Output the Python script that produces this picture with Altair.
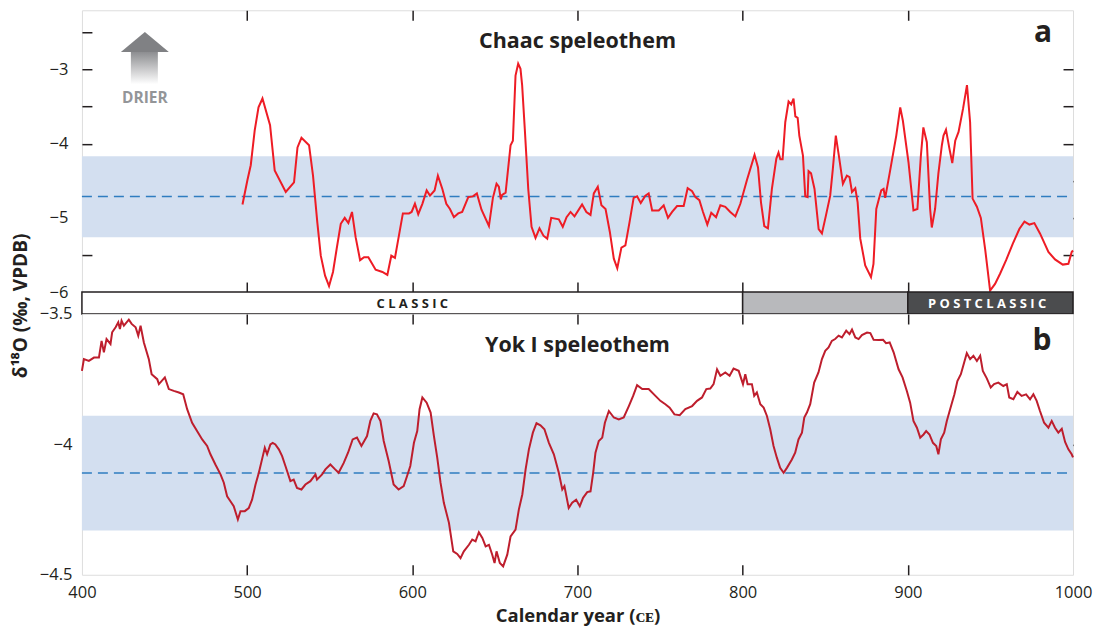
import altair as alt
import pandas as pd

# ---------------- data ----------------
chaac_year = [497.2, 500.2, 502.2, 504.6, 506.9, 509.3, 513.9, 516.7, 523.4, 528.4, 530.5, 532.9, 537.5, 539.9,
              542.5, 544.6, 547.2, 549.6, 552.0, 554.2, 556.7, 559.1, 561.3, 563.5, 565.7, 568.4, 570.8, 573.4,
              577.8, 581.9, 584.9, 587.3, 589.5, 591.9, 594.3, 598.0, 599.6, 601.6, 603.6, 606.1, 608.7, 610.7,
              613.5, 615.5, 618.2, 620.6, 622.8, 625.2, 627.8, 630.2, 633.9, 636.7, 639.1, 641.9, 646.4, 648.8,
              651.0, 652.4, 653.6, 654.4, 656.5, 659.5, 660.9, 662.5, 664.1, 665.5, 666.5, 668.1, 670.2, 672.2,
              674.6, 677.0, 679.4, 681.7, 684.1, 688.7, 691.1, 693.4, 695.8, 698.2, 702.8, 705.4, 707.9, 709.9,
              712.3, 714.5, 717.0, 719.6, 722.0, 724.1, 726.6, 729.0, 731.5, 734.0, 736.1, 738.3, 741.1, 743.1,
              745.2, 749.2, 752.2, 754.8, 757.3, 760.3, 764.3, 766.7, 769.4, 771.4, 773.8, 776.0, 778.6, 781.0,
              783.9, 786.5, 789.5, 792.5, 795.6, 798.6, 802.6, 807.2, 809.3, 811.1, 813.1, 815.3, 817.7, 820.4,
              821.7, 822.8, 824.2, 825.8, 827.8, 829.4, 830.8, 831.9, 833.3, 834.3, 836.5, 837.9, 839.3, 839.9,
              841.4, 843.5, 846.0, 848.0, 850.4, 853.0, 854.6, 856.4, 858.5, 860.7, 863.1, 864.7, 866.2, 868.2,
              869.6, 871.2, 874.2, 877.7, 879.2, 880.9, 882.2, 883.9, 885.3, 886.3, 889.3, 893.0, 895.4, 897.0,
              900.4, 903.4, 905.8, 907.9, 909.4, 911.5, 913.5, 914.5, 916.5, 918.5, 920.6, 921.6, 923.1, 925.2,
              926.9, 928.7, 930.7, 933.4, 935.8, 937.7, 939.2, 941.8, 944.2, 946.8, 949.8, 952.8, 955.9, 959.5,
              963.5, 967.5, 970.6, 973.6, 976.6, 980.0, 985.1, 989.1, 993.8, 997.2, 999.2, 1000.0]
chaac_d18o = [-4.82, -4.49, -4.29, -3.82, -3.51, -3.39, -3.75, -4.36, -4.65, -4.52, -4.05, -3.92, -4.02, -4.43,
              -5.06, -5.51, -5.78, -5.92, -5.73, -5.42, -5.08, -5.00, -5.07, -4.92, -5.26, -5.57, -5.53, -5.53,
              -5.70, -5.73, -5.77, -5.51, -5.54, -5.24, -4.94, -4.94, -4.92, -4.81, -4.95, -4.81, -4.63, -4.70,
              -4.63, -4.43, -4.61, -4.81, -4.88, -4.99, -4.94, -4.92, -4.72, -4.71, -4.67, -4.89, -5.11, -4.73,
              -4.54, -4.58, -4.75, -4.69, -4.66, -4.02, -3.96, -3.08, -2.92, -2.99, -3.21, -3.80, -4.61, -5.12,
              -5.27, -5.14, -5.24, -5.28, -5.00, -5.02, -5.12, -4.99, -4.92, -4.98, -4.82, -4.92, -4.96, -4.67,
              -4.58, -4.83, -4.88, -5.19, -5.55, -5.68, -5.40, -5.37, -5.06, -4.73, -4.71, -4.80, -4.70, -4.67,
              -4.90, -4.90, -4.83, -5.00, -4.92, -4.84, -4.84, -4.60, -4.64, -4.72, -4.76, -4.92, -5.09, -4.93,
              -4.99, -4.83, -4.85, -4.92, -4.98, -4.81, -4.49, -4.15, -4.32, -4.79, -5.11, -5.14, -4.61, -4.20,
              -4.12, -4.21, -4.21, -3.71, -3.43, -3.47, -3.39, -3.63, -3.65, -3.89, -4.16, -4.71, -4.72, -4.37,
              -4.40, -4.61, -5.15, -5.21, -4.97, -4.70, -4.34, -3.89, -4.20, -4.54, -4.43, -4.45, -4.65, -4.60,
              -4.79, -5.28, -5.64, -5.80, -5.62, -4.88, -4.77, -4.63, -4.61, -4.73, -4.36, -3.89, -3.51, -3.69,
              -4.25, -4.90, -4.88, -4.16, -3.78, -3.98, -4.88, -5.13, -4.88, -4.40, -4.02, -3.89, -3.81, -4.07,
              -4.26, -3.96, -3.84, -3.53, -3.21, -3.71, -4.74, -4.85, -5.00, -5.42, -5.98, -5.89, -5.75, -5.57,
              -5.35, -5.15, -5.05, -5.09, -5.07, -5.21, -5.46, -5.56, -5.63, -5.62, -5.46, -5.44]

yok_year = [400.0, 401.2, 404.2, 407.3, 410.3, 411.9, 413.3, 414.9, 417.3, 418.3, 420.4, 422.0, 423.0, 424.0,
            425.4, 428.4, 430.1, 432.5, 434.1, 435.5, 437.5, 440.5, 442.2, 445.6, 446.6, 450.2, 452.6, 455.6,
            458.7, 461.3, 463.7, 466.7, 469.7, 472.8, 475.8, 477.8, 480.8, 483.9, 485.9, 487.9, 489.9, 491.9,
            494.4, 496.0, 498.6, 501.0, 503.0, 505.1, 507.1, 509.5, 510.7, 512.1, 514.1, 515.5, 517.1, 519.2,
            521.2, 523.2, 526.2, 528.2, 530.2, 532.9, 535.3, 538.3, 541.4, 542.3, 545.4, 547.4, 550.4, 553.0,
            555.4, 558.5, 561.1, 563.9, 566.5, 569.2, 572.6, 574.6, 576.6, 578.6, 580.7, 582.7, 585.7, 588.7,
            591.7, 594.8, 596.8, 598.8, 601.0, 603.0, 604.4, 606.1, 608.7, 611.1, 613.1, 615.1, 617.1, 619.1,
            622.2, 624.8, 627.2, 629.2, 631.2, 634.3, 636.3, 638.3, 640.3, 642.4, 644.4, 646.4, 648.4, 649.8,
            651.0, 653.0, 655.0, 657.5, 659.5, 662.5, 664.5, 666.6, 668.6, 670.6, 673.0, 675.2, 677.6, 680.0,
            682.7, 685.7, 688.7, 690.8, 692.1, 694.7, 696.8, 699.2, 701.4, 703.4, 705.9, 707.9, 709.5, 710.9,
            712.9, 715.0, 716.6, 719.0, 722.0, 725.0, 728.0, 731.1, 733.7, 736.1, 739.2, 743.1, 747.2, 750.2,
            753.2, 755.8, 758.7, 761.9, 765.3, 769.4, 772.4, 775.4, 778.0, 780.4, 782.4, 784.5, 786.5, 789.5,
            792.1, 794.5, 797.6, 800.2, 801.6, 803.0, 805.6, 807.0, 808.6, 810.7, 812.7, 814.7, 816.7, 818.7,
            820.7, 822.7, 824.8, 826.8, 829.8, 831.8, 833.8, 835.9, 837.3, 838.9, 840.9, 843.3, 845.9, 848.0,
            850.0, 852.0, 854.0, 856.0, 858.1, 860.1, 862.7, 864.7, 866.2, 868.2, 870.2, 872.2, 875.3, 877.3,
            879.3, 882.3, 885.0, 886.8, 889.0, 891.4, 894.4, 896.8, 899.4, 901.4, 903.4, 905.5, 907.5, 909.5,
            911.1, 913.1, 915.2, 917.2, 918.5, 920.0, 922.0, 923.6, 925.6, 928.2, 930.0, 932.1, 934.1, 935.7,
            937.7, 939.7, 941.8, 943.8, 945.4, 947.8, 950.2, 952.2, 954.8, 957.8, 959.9, 961.4, 963.9, 966.3,
            968.9, 971.6, 974.0, 976.0, 978.0, 980.0, 982.5, 985.1, 987.1, 989.1, 991.1, 993.2, 995.2, 997.2,
            999.2, 1000.0]
yok_d18o = [-3.718, -3.673, -3.680, -3.667, -3.667, -3.603, -3.647, -3.596, -3.615, -3.570, -3.551, -3.532, -3.558,
            -3.526, -3.545, -3.522, -3.538, -3.551, -3.583, -3.545, -3.609, -3.673, -3.731, -3.750, -3.769, -3.743,
            -3.788, -3.795, -3.801, -3.808, -3.865, -3.917, -3.949, -3.981, -4.006, -4.038, -4.077, -4.115, -4.147,
            -4.199, -4.218, -4.237, -4.288, -4.256, -4.256, -4.244, -4.212, -4.154, -4.109, -4.045, -4.013, -4.038,
            -4.000, -3.994, -4.000, -4.019, -4.045, -4.083, -4.141, -4.135, -4.167, -4.173, -4.154, -4.141, -4.115,
            -4.135, -4.115, -4.096, -4.077, -4.094, -4.109, -4.071, -4.032, -3.981, -3.974, -4.006, -3.968, -3.910,
            -3.881, -3.885, -3.910, -3.987, -4.064, -4.154, -4.173, -4.160, -4.122, -4.083, -3.994, -3.949, -3.865,
            -3.820, -3.840, -3.878, -3.968, -4.051, -4.147, -4.224, -4.301, -4.410, -4.420, -4.436, -4.410, -4.385,
            -4.365, -4.372, -4.337, -4.359, -4.391, -4.385, -4.423, -4.455, -4.410, -4.455, -4.468, -4.423, -4.353,
            -4.327, -4.250, -4.192, -4.096, -4.019, -3.955, -3.919, -3.927, -3.942, -3.994, -4.038, -4.109, -4.173,
            -4.160, -4.244, -4.224, -4.212, -4.237, -4.205, -4.183, -4.180, -4.109, -4.032, -3.987, -3.974, -3.917,
            -3.872, -3.897, -3.904, -3.897, -3.853, -3.814, -3.773, -3.788, -3.788, -3.814, -3.833, -3.846, -3.859,
            -3.885, -3.888, -3.865, -3.853, -3.833, -3.820, -3.788, -3.786, -3.769, -3.712, -3.737, -3.724, -3.737,
            -3.709, -3.718, -3.769, -3.731, -3.769, -3.769, -3.814, -3.801, -3.846, -3.859, -3.891, -3.942, -4.006,
            -4.051, -4.090, -4.109, -4.090, -4.058, -4.032, -3.981, -3.955, -3.897, -3.878, -3.846, -3.763, -3.724,
            -3.673, -3.641, -3.628, -3.603, -3.596, -3.583, -3.590, -3.564, -3.577, -3.560, -3.590, -3.596, -3.581,
            -3.571, -3.573, -3.599, -3.600, -3.599, -3.612, -3.609, -3.647, -3.712, -3.743, -3.795, -3.840, -3.910,
            -3.936, -3.974, -3.962, -3.949, -3.962, -3.994, -4.006, -4.038, -3.981, -3.955, -3.910, -3.865, -3.808,
            -3.757, -3.731, -3.686, -3.650, -3.673, -3.660, -3.680, -3.660, -3.718, -3.747, -3.782, -3.769, -3.763,
            -3.776, -3.769, -3.820, -3.827, -3.799, -3.814, -3.808, -3.827, -3.808, -3.833, -3.872, -3.917, -3.936,
            -3.910, -3.936, -3.955, -3.940, -3.991, -4.019, -4.038, -4.050]

chaac_band = [-5.26, -4.17]
chaac_mean = [-4.71]
yok_band = [-4.33, -3.89]
yok_mean = [-4.11]
x_range = [400, 1000]

period_names = ["CLASSIC", "TERMINAL", "POSTCLASSIC"]
period_start = [400, 800, 900]
period_end = [800, 900, 1000]
period_label = ["CLASSIC", "", "POSTCLASSIC"]
period_label_year = [600, 850, 948]

# ---------------- style ----------------
W, H1, H2, H3 = 992, 282, 22, 261
FONT = "Open Sans"
INK = "#231f20"
BAND = "#d3dff0"
DASH = "#2f7dc0"

xs = alt.Scale(domain=x_range, nice=False, zero=False)
ys_top = alt.Scale(domain=[-6, -2.2], nice=False, zero=False)
ys_bot = alt.Scale(domain=[-4.5, -3.5], nice=False, zero=False)


def tick_axis(orient, offset, values):
    return alt.Axis(orient=orient, offset=offset, values=values, labels=False, domain=False,
                    grid=False, ticks=True, tickSize=10, tickWidth=1.5, tickColor=INK, title=None)


chaac_df = pd.DataFrame({"year": chaac_year, "d18o": chaac_d18o})
yok_df = pd.DataFrame({"year": yok_year, "d18o": yok_d18o})
cband_df = pd.DataFrame({"x0": [x_range[0]], "x1": [x_range[1]], "lo": [chaac_band[0]], "hi": [chaac_band[1]],
                         "mean": chaac_mean})
yband_df = pd.DataFrame({"x0": [x_range[0]], "x1": [x_range[1]], "lo": [yok_band[0]], "hi": [yok_band[1]],
                         "mean": yok_mean})

# ---------------- top panel (Chaac) ----------------
half_steps_top = [-2.5, -3, -3.5, -4, -4.5, -5, -5.5]
top_band = alt.Chart(cband_df).mark_rect(color=BAND).encode(
    x=alt.X("x0:Q", scale=xs, axis=tick_axis("bottom", -H1, [500, 600, 700, 800, 900])),
    x2="x1:Q",
    y=alt.Y("lo:Q", scale=ys_top, axis=alt.Axis(orient="left", values=[-3, -4, -5, -6], format=".0f",
                                                ticks=False, domain=False, grid=False, title=None,
                                                labelFont=FONT, labelFontSize=16.5, labelColor=INK,
                                                labelPadding=14)),
    y2="hi:Q",
)
top_rule = alt.Chart(cband_df).mark_rule(color=DASH, strokeDash=[10, 6], strokeWidth=1.5).encode(
    x=alt.X("x0:Q", scale=xs, axis=tick_axis("top", -H1, [500, 600, 700, 800, 900])),
    x2="x1:Q",
    y=alt.Y("mean:Q", scale=ys_top, axis=tick_axis("right", -W, half_steps_top)),
)
top_line = alt.Chart(chaac_df).mark_line(color="#ee1c25", strokeWidth=2).encode(
    x=alt.X("year:Q", scale=xs, axis=None),
    y=alt.Y("d18o:Q", scale=ys_top, axis=tick_axis("left", -W, half_steps_top[1:])),
)
top_title = alt.Chart(pd.DataFrame({"t": ["Chaac speleothem"]})).mark_text(
    font=FONT, fontSize=21.5, fontWeight="bold", color=INK, baseline="middle").encode(
    x=alt.value(496), y=alt.value(32), text="t:N")
top_letter = alt.Chart(pd.DataFrame({"t": ["a"]})).mark_text(font=FONT, fontSize=30, fontWeight="bold",
                                                           color=INK, baseline="middle").encode(
    x=alt.value(962), y=alt.value(23), text="t:N")
arrow_shaft = alt.Chart(pd.DataFrame({"t": [0]})).mark_rect(
    color=alt.Gradient(gradient="linear",
                       stops=[alt.GradientStop(color="#8a8b8e", offset=0),
                              alt.GradientStop(color="#ffffff", offset=1)],
                       x1=0, x2=0, y1=0, y2=1)).encode(
    x=alt.value(49), x2=alt.value(76), y=alt.value(41), y2=alt.value(74))
arrow_head = alt.Chart(pd.DataFrame({"t": [0]})).mark_point(
    shape="M-1,0.42L0,-0.42L1,0.42Z", size=2304, filled=True, color="#808184", opacity=1,
    strokeWidth=0).encode(x=alt.value(63), y=alt.value(31.7))
drier = alt.Chart(pd.DataFrame({"t": ["DRIER"]})).mark_text(font=FONT, fontSize=15.5, fontWeight="bold",
                                                           color="#939598", baseline="middle").encode(
    x=alt.value(63), y=alt.value(88), text="t:N")

top = alt.layer(top_band, top_rule, top_line, top_title, top_letter, arrow_shaft, arrow_head, drier).resolve_axis(
    x="independent", y="independent").properties(width=W, height=H1)

# ---------------- period bar ----------------
per_df = pd.DataFrame({"name": period_names, "start": period_start, "end": period_end,
                       "label": [" ".join(list(s)) for s in period_label], "mid": period_label_year})
bar_rect = alt.Chart(per_df).mark_rect(stroke=INK, strokeWidth=1.5).encode(
    x=alt.X("start:Q", scale=xs, axis=None), x2="end:Q",
    y=alt.value(0), y2=alt.value(H2),
    color=alt.Color("name:N", scale=alt.Scale(domain=period_names, range=["#ffffff", "#b8b9bc", "#4b4c4e"]),
                    legend=None),
)
bar_text = alt.Chart(per_df).mark_text(font=FONT, fontSize=13, fontWeight="bold", baseline="middle").encode(
    x=alt.X("mid:Q", scale=xs, axis=None), y=alt.value(H2 / 2 + 0.5), text="label:N",
    color=alt.Color("name:N", scale=alt.Scale(domain=period_names, range=[INK, INK, "#ffffff"]), legend=None),
)
ytitle = alt.Chart(pd.DataFrame({"t": ["δ¹⁸O (‰, VPDB)"]})).mark_text(
    font=FONT, fontSize=19, fontWeight="bold", color=INK, angle=270, baseline="middle", align="center").encode(
    x=alt.value(-61), y=alt.value(14), text="t:N")
bar = alt.layer(bar_rect, bar_text, ytitle).resolve_scale(color="independent").properties(width=W, height=H2)

# ---------------- bottom panel (Yok I) ----------------
bot_band = alt.Chart(yband_df).mark_rect(color=BAND).encode(
    x=alt.X("x0:Q", scale=xs, axis=alt.Axis(orient="bottom", values=[400, 500, 600, 700, 800, 900, 1000],
                                            format="d", ticks=False, domain=False, grid=False,
                                            labelFlush=False, labelFont=FONT, labelFontSize=16.5,
                                            labelColor=INK, labelPadding=10,
                                            title="Calendar year (ᴄᴇ)", titleFont=FONT, titleFontSize=18.5,
                                            titleFontWeight="bold", titleColor=INK, titlePadding=5)),
    x2="x1:Q",
    y=alt.Y("lo:Q", scale=ys_bot, axis=alt.Axis(orient="left", values=[-3.5, -4, -4.5], format=".1~f",
                                                ticks=False, domain=False, grid=False, title=None,
                                                labelFont=FONT, labelFontSize=16.5, labelColor=INK,
                                                labelPadding=10)),
    y2="hi:Q",
)
bot_rule = alt.Chart(yband_df).mark_rule(color=DASH, strokeDash=[10, 6], strokeWidth=1.5).encode(
    x=alt.X("x0:Q", scale=xs, axis=tick_axis("bottom", -H3, [500, 600, 700, 800, 900])),
    x2="x1:Q",
    y=alt.Y("mean:Q", scale=ys_bot, axis=tick_axis("right", -W, [-4])),
)
bot_line = alt.Chart(yok_df).mark_line(color="#be1e2d", strokeWidth=2).encode(
    x=alt.X("year:Q", scale=xs, axis=tick_axis("top", -H3, [500, 600, 700, 800, 900])),
    y=alt.Y("d18o:Q", scale=ys_bot, axis=tick_axis("left", -W, [-4])),
)
bot_title = alt.Chart(pd.DataFrame({"t": ["Yok I speleothem"]})).mark_text(
    font=FONT, fontSize=21.5, fontWeight="bold", color=INK, baseline="middle").encode(
    x=alt.value(496), y=alt.value(32), text="t:N")
bot_letter = alt.Chart(pd.DataFrame({"t": ["b"]})).mark_text(font=FONT, fontSize=30, fontWeight="bold",
                                                           color=INK, baseline="middle").encode(
    x=alt.value(961), y=alt.value(27), text="t:N")

bottom = alt.layer(bot_band, bot_rule, bot_line, bot_title, bot_letter).resolve_axis(
    x="independent", y="independent").properties(width=W, height=H3)

chart = alt.vconcat(top, bar, bottom, spacing=0, bounds="flush").properties(
    padding={"left": 11, "top": 8, "right": 0, "bottom": 4}
).configure_view(stroke=INK, strokeWidth=1.5).configure(background="white")

chart.save("out.html", embed_options={"renderer": "svg", "actions": False})
